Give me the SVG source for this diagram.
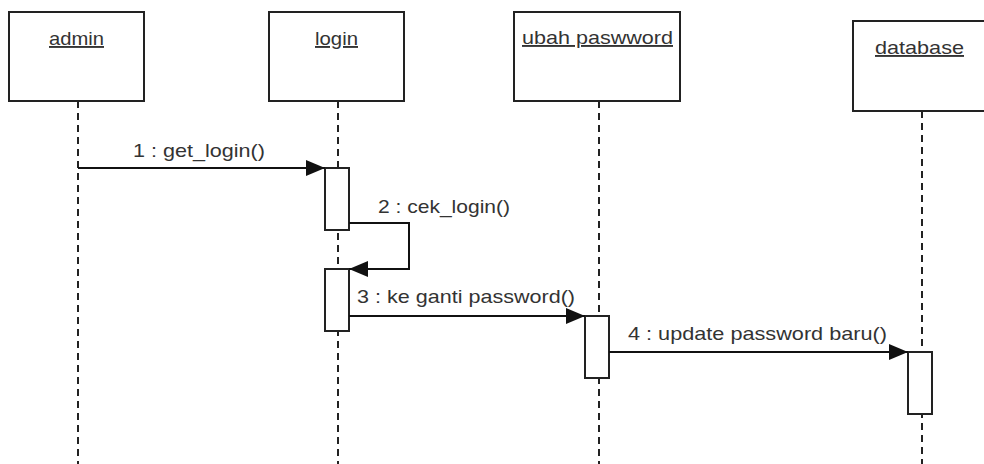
<svg xmlns="http://www.w3.org/2000/svg" width="984" height="464" viewBox="0 0 984 464">
<style>
.box{fill:#fff;stroke:#222;stroke-width:2}
.act{fill:#fff;stroke:#222;stroke-width:2}
.life{stroke:#222;stroke-width:2;stroke-dasharray:7 5;fill:none}
.msg{stroke:#111;stroke-width:2;fill:none}
.t{font-family:"Liberation Sans","DejaVu Sans",sans-serif;font-size:19px;fill:#333}
.u{text-decoration:underline}
</style>
<defs>
<marker id="arr" viewBox="0 0 19 16" refX="19" refY="8" markerWidth="19" markerHeight="16" markerUnits="userSpaceOnUse" orient="auto">
<path d="M0,0 L19,8 L0,16 z" fill="#111"/>
</marker>
</defs>
<rect width="984" height="464" fill="#fff"/>
<g id="lifelines">
<line class="life" x1="78" y1="101" x2="78" y2="464"/>
<line class="life" x1="338" y1="101" x2="338" y2="464"/>
<line class="life" x1="599" y1="101" x2="599" y2="464"/>
<line class="life" x1="922" y1="111" x2="922" y2="464"/>
</g>
<g id="admin">
<rect class="box" x="9" y="12" width="135" height="89"/>
<text class="t u" x="76.5" y="45" text-anchor="middle" textLength="55" lengthAdjust="spacingAndGlyphs">admin</text>
</g>
<g id="login">
<rect class="box" x="269" y="12" width="135" height="89"/>
<text class="t u" x="336.5" y="45" text-anchor="middle" textLength="43" lengthAdjust="spacingAndGlyphs">login</text>
<rect class="act" x="325" y="168" width="24" height="62"/>
<rect class="act" x="325" y="269" width="24" height="62"/>
</g>
<g id="ubah-paswword">
<rect class="box" x="514" y="12" width="166" height="89"/>
<text class="t u" x="597.5" y="44" text-anchor="middle" textLength="151" lengthAdjust="spacingAndGlyphs">ubah paswword</text>
<rect class="act" x="585" y="316" width="24" height="62"/>
</g>
<g id="database">
<rect class="box" x="853" y="21" width="140" height="90"/>
<text class="t u" x="919.5" y="54" text-anchor="middle" textLength="89" lengthAdjust="spacingAndGlyphs">database</text>
<rect class="act" x="908" y="352" width="24" height="62"/>
</g>
<g id="connectors">
<line class="msg" x1="78" y1="168" x2="325" y2="168" marker-end="url(#arr)"/>
<polyline class="msg" points="349,223 409,223 409,269 349,269" marker-end="url(#arr)"/>
<line class="msg" x1="349" y1="316" x2="585" y2="316" marker-end="url(#arr)"/>
<line class="msg" x1="609" y1="352" x2="908" y2="352" marker-end="url(#arr)"/>
<text class="t" x="133" y="157" textLength="132" lengthAdjust="spacingAndGlyphs">1 : get_login()</text>
<text class="t" x="378" y="213" textLength="132" lengthAdjust="spacingAndGlyphs">2 : cek_login()</text>
<text class="t" x="357" y="303" textLength="218" lengthAdjust="spacingAndGlyphs">3 : ke ganti password()</text>
<text class="t" x="628" y="340" textLength="259" lengthAdjust="spacingAndGlyphs">4 : update password baru()</text>
</g>
</svg>
